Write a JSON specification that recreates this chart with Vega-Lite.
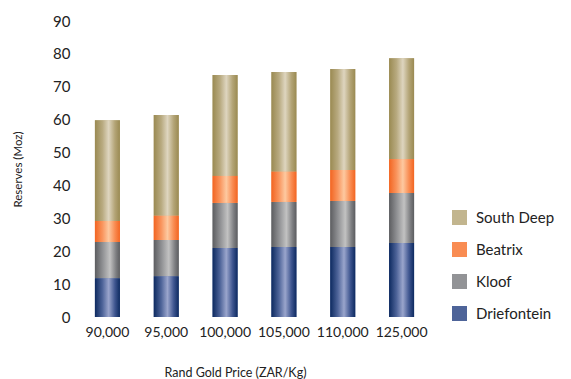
{
  "$schema": "https://vega.github.io/schema/vega-lite/v6.json",
  "width": 353,
  "height": 296,
  "autosize": "none",
  "padding": {"left": 78, "top": 21, "right": 140, "bottom": 62},
  "background": "white",
  "config": {"view": {"stroke": null}, "font": "Lato"},
  "data": {"values": [
    {"price": "90,000", "site": "Driefontein", "moz": 11.8},
    {"price": "90,000", "site": "Kloof", "moz": 11.0},
    {"price": "90,000", "site": "Beatrix", "moz": 6.4},
    {"price": "90,000", "site": "South Deep", "moz": 30.6},
    {"price": "95,000", "site": "Driefontein", "moz": 12.4},
    {"price": "95,000", "site": "Kloof", "moz": 11.0},
    {"price": "95,000", "site": "Beatrix", "moz": 7.4},
    {"price": "95,000", "site": "South Deep", "moz": 30.6},
    {"price": "100,000", "site": "Driefontein", "moz": 21.0},
    {"price": "100,000", "site": "Kloof", "moz": 13.7},
    {"price": "100,000", "site": "Beatrix", "moz": 8.2},
    {"price": "100,000", "site": "South Deep", "moz": 30.7},
    {"price": "105,000", "site": "Driefontein", "moz": 21.3},
    {"price": "105,000", "site": "Kloof", "moz": 13.7},
    {"price": "105,000", "site": "Beatrix", "moz": 9.2},
    {"price": "105,000", "site": "South Deep", "moz": 30.3},
    {"price": "110,000", "site": "Driefontein", "moz": 21.3},
    {"price": "110,000", "site": "Kloof", "moz": 14.0},
    {"price": "110,000", "site": "Beatrix", "moz": 9.4},
    {"price": "110,000", "site": "South Deep", "moz": 30.7},
    {"price": "125,000", "site": "Driefontein", "moz": 22.5},
    {"price": "125,000", "site": "Kloof", "moz": 15.2},
    {"price": "125,000", "site": "Beatrix", "moz": 10.3},
    {"price": "125,000", "site": "South Deep", "moz": 30.7}
  ]},
  "transform": [
    {"calculate": "indexof(['Driefontein','Kloof','Beatrix','South Deep'], datum.site)", "as": "stackOrder"},
    {"stack": "moz", "groupby": ["price"], "sort": [{"field": "stackOrder", "order": "ascending"}], "as": ["y0", "y1"]}
  ],
  "encoding": {
    "x": {
      "field": "price", "type": "ordinal",
      "sort": ["90,000", "95,000", "100,000", "105,000", "110,000", "125,000"],
      "scale": {"paddingInner": 0.575, "paddingOuter": 0.2875},
      "axis": {
        "title": "Rand Gold Price (ZAR/Kg)",
        "labelAngle": 0, "labelFontSize": 14, "labelColor": "#222", "labelPadding": 8,
        "domain": false, "ticks": false, "grid": false,
        "titleFontSize": 12.5, "titleFontWeight": "normal", "titleColor": "#222",
        "titleX": 157, "titleY": 55, "titleBaseline": "middle", "titleAnchor": "middle"
      }
    },
    "y": {
      "field": "y0", "type": "quantitative",
      "scale": {"domain": [0, 90], "nice": false},
      "axis": {
        "title": "Reserves (Moz)",
        "values": [0, 10, 20, 30, 40, 50, 60, 70, 80, 90],
        "labelFontSize": 15, "labelColor": "#222", "labelPadding": 8,
        "domain": false, "ticks": false, "grid": false,
        "titleFontSize": 11.5, "titleFontWeight": "normal", "titleColor": "#222",
        "titleX": -60, "titleBaseline": "middle"
      }
    },
    "y2": {"field": "y1"}
  },
  "layer": [
    {
      "mark": {"type": "bar", "size": 25},
      "encoding": {
        "color": {
          "field": "site", "type": "nominal",
          "scale": {
            "domain": ["South Deep", "Beatrix", "Kloof", "Driefontein"],
            "range": ["#c2b58e", "#f98c52", "#929396", "#4e6499"]
          },
          "legend": {
            "title": null, "orient": "none", "legendX": 374, "legendY": 189,
            "symbolType": "square", "symbolSize": 225, "symbolStrokeWidth": 0,
            "labelFontSize": 15, "labelColor": "#222", "labelOffset": 9,
            "rowPadding": 16
          }
        }
      }
    },
    {
      "transform": [{"filter": "datum.site == 'South Deep'"}],
      "mark": {"type": "bar", "size": 25, "color": {"gradient": "linear", "x1": 0, "y1": 0, "x2": 1, "y2": 0, "stops": [
        {"offset": 0, "color": "#9a8a52"}, {"offset": 0.3, "color": "#b8aa80"},
        {"offset": 0.55, "color": "#ded5bf"}, {"offset": 0.8, "color": "#b3a476"},
        {"offset": 1, "color": "#9a8a52"}]}}
    },
    {
      "transform": [{"filter": "datum.site == 'Beatrix'"}],
      "mark": {"type": "bar", "size": 25, "color": {"gradient": "linear", "x1": 0, "y1": 0, "x2": 1, "y2": 0, "stops": [
        {"offset": 0, "color": "#f26522"}, {"offset": 0.3, "color": "#f9955e"},
        {"offset": 0.55, "color": "#fdc9a0"}, {"offset": 0.8, "color": "#f98c52"},
        {"offset": 1, "color": "#f26522"}]}}
    },
    {
      "transform": [{"filter": "datum.site == 'Kloof'"}],
      "mark": {"type": "bar", "size": 25, "color": {"gradient": "linear", "x1": 0, "y1": 0, "x2": 1, "y2": 0, "stops": [
        {"offset": 0, "color": "#5c5d60"}, {"offset": 0.3, "color": "#8e8f92"},
        {"offset": 0.6, "color": "#c2c2c2"}, {"offset": 0.85, "color": "#7c7d80"},
        {"offset": 1, "color": "#5c5d60"}]}}
    },
    {
      "transform": [{"filter": "datum.site == 'Driefontein'"}],
      "mark": {"type": "bar", "size": 25, "color": {"gradient": "linear", "x1": 0, "y1": 0, "x2": 1, "y2": 0, "stops": [
        {"offset": 0, "color": "#0d2a60"}, {"offset": 0.3, "color": "#4e6499"},
        {"offset": 0.55, "color": "#9aa5cc"}, {"offset": 0.8, "color": "#3f5690"},
        {"offset": 1, "color": "#0d2a60"}]}}
    }
  ]
}
